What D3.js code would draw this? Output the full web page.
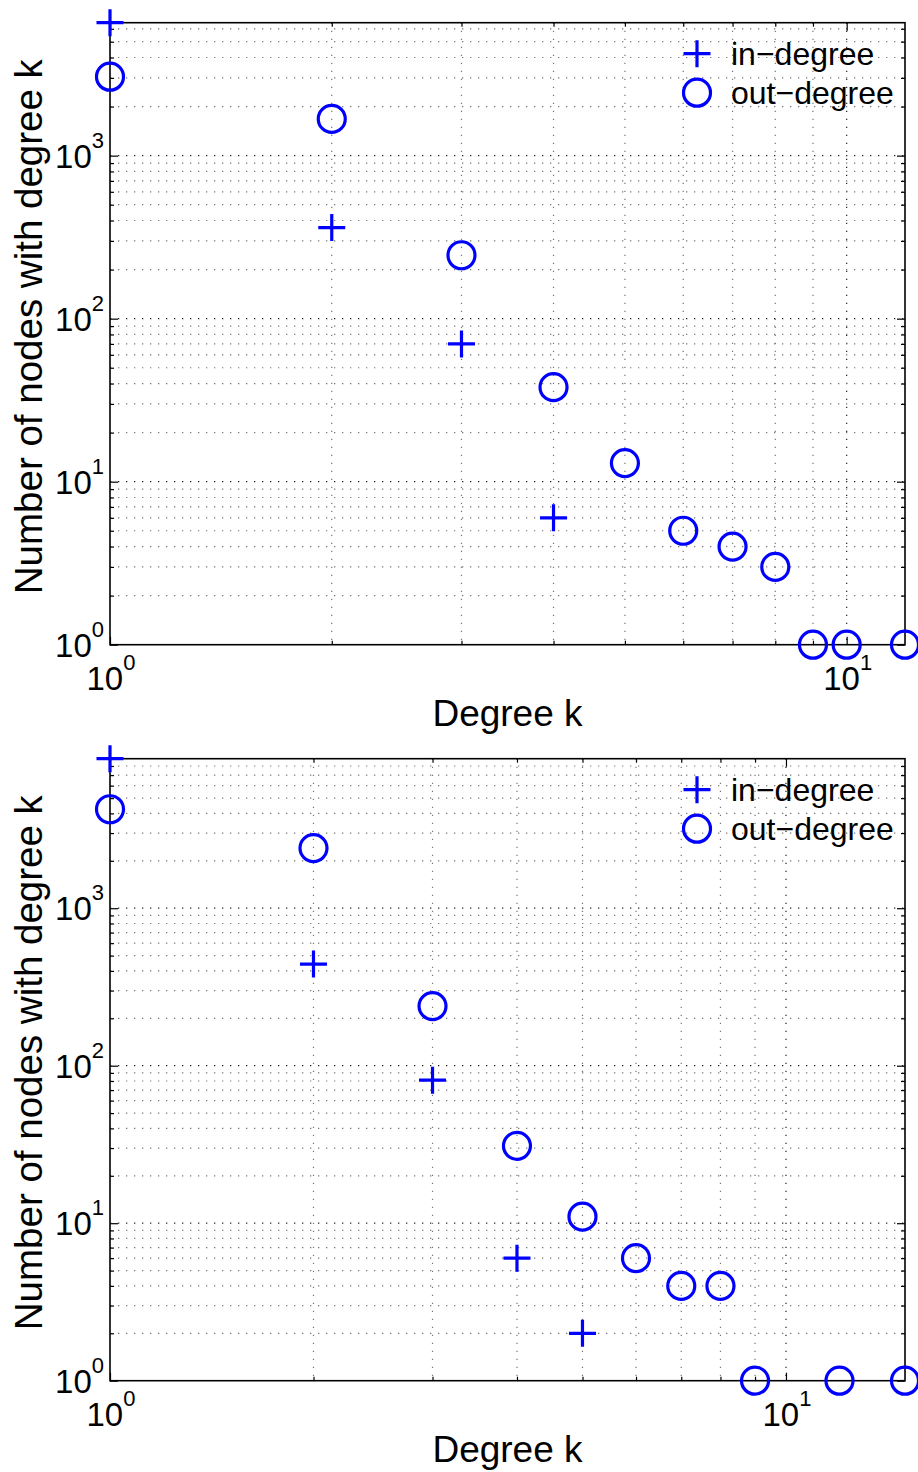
<!DOCTYPE html>
<html>
<head>
<meta charset="utf-8">
<script src="https://cdn.jsdelivr.net/npm/d3@7"></script>
<style>
  body { margin: 0; background: #fff; }
  svg { display: block; font-family: "Liberation Sans", Arial, sans-serif; }
</style>
</head>
<body>
<div id="chart"></div>
<script>
// data (counts of nodes per degree k)
var topInK = [1, 2, 3, 4];
var topInN = [6540, 362, 70, 6];
var topOutK = [1, 2, 3, 4, 5, 6, 7, 8, 9, 10, 12];
var topOutN = [3050, 1680, 245, 38, 13, 5, 4, 3, 1, 1, 1];

var botInK = [1, 2, 3, 4, 5];
var botInN = [8900, 442, 81, 6, 2];
var botOutK = [1, 2, 3, 4, 5, 6, 7, 8, 9, 12, 15];
var botOutN = [4250, 2410, 239, 31, 11, 6, 4, 4, 1, 1, 1];

var legendLabels = ["in\u2212degree", "out\u2212degree"];
var xLabel = "Degree k";
var yLabel = "Number of nodes with degree k";

var width = 918;
var height = 1472;
var blue = "#0000ff";

var panels = [
  {top: 22.7, bottom: 644.7, inK: topInK, inN: topInN, outK: topOutK, outN: topOutN},
  {top: 758.7, bottom: 1380.7, inK: botInK, inN: botInN, outK: botOutK, outN: botOutN}
];
var left = 110, right = 905;

var svg = d3.select("#chart").append("svg")
  .attr("width", width)
  .attr("height", height);

function isMajor(v) {
  var l = Math.log10(v);
  return Math.abs(l - Math.round(l)) < 1e-9;
}

function powLabel(sel, v) {
  sel.append("tspan").text("10");
  sel.append("tspan")
    .attr("dy", -20)
    .style("font-size", "22px")
    .text(Math.round(Math.log10(v)));
}

function plusPath(cx, cy, r) {
  return "M" + (cx - r) + "," + cy + "H" + (cx + r) + "M" + cx + "," + (cy - r) + "V" + (cy + r);
}

panels.forEach(function(p) {
  var g = svg.append("g");

  var x = d3.scaleLog()
    .domain([1, d3.max(p.outK.concat(p.inK))])
    .range([left, right]);
  var y = d3.scaleLog()
    .domain([1, d3.max(p.inN.concat(p.outN))])
    .range([p.bottom, p.top]);

  var xt = x.ticks();
  var yt = y.ticks();

  // dotted grid, major and minor
  g.selectAll(".vgrid").data(xt.filter(function(v) { return v > 1; }))
    .enter().append("line")
    .attr("x1", d => x(d)).attr("x2", d => x(d))
    .attr("y1", p.top).attr("y2", p.bottom)
    .style("stroke", d => isMajor(d) ? "#222" : "#777")
    .style("stroke-width", 1.2)
    .style("stroke-dasharray", "1.3,6.7");

  g.selectAll(".hgrid").data(yt.filter(function(v) { return v > 1; }))
    .enter().append("line")
    .attr("x1", left).attr("x2", right)
    .attr("y1", d => y(d)).attr("y2", d => y(d))
    .style("stroke", d => isMajor(d) ? "#222" : "#777")
    .style("stroke-width", 1.2)
    .style("stroke-dasharray", "1.3,6.7");

  // inward ticks on all four sides
  var xMaj = xt.filter(isMajor), xMin = xt.filter(v => !isMajor(v));
  var yMaj = yt.filter(isMajor), yMin = yt.filter(v => !isMajor(v));

  var tickSets = [
    [d3.axisBottom(x).tickValues(xMaj).tickSizeInner(-8), "translate(0," + p.bottom + ")"],
    [d3.axisBottom(x).tickValues(xMin).tickSizeInner(-4), "translate(0," + p.bottom + ")"],
    [d3.axisTop(x).tickValues(xMaj).tickSizeInner(-8), "translate(0," + p.top + ")"],
    [d3.axisTop(x).tickValues(xMin).tickSizeInner(-4), "translate(0," + p.top + ")"],
    [d3.axisLeft(y).tickValues(yMaj).tickSizeInner(-8), "translate(" + left + ",0)"],
    [d3.axisLeft(y).tickValues(yMin).tickSizeInner(-4), "translate(" + left + ",0)"],
    [d3.axisRight(y).tickValues(yMaj).tickSizeInner(-8), "translate(" + right + ",0)"],
    [d3.axisRight(y).tickValues(yMin).tickSizeInner(-4), "translate(" + right + ",0)"]
  ];
  tickSets.forEach(function(t) {
    var a = g.append("g")
      .attr("transform", t[1])
      .call(t[0].tickSizeOuter(0).tickFormat(""));
    a.select(".domain").remove();
    a.selectAll("line").style("stroke", "#000").style("stroke-width", 1.2);
  });

  // box
  g.append("rect")
    .attr("x", left).attr("y", p.top)
    .attr("width", right - left).attr("height", p.bottom - p.top)
    .style("fill", "none").style("stroke", "#000").style("stroke-width", 1.6);

  // tick labels
  xMaj.forEach(function(v) {
    g.append("text")
      .attr("x", x(v) + 1).attr("y", p.bottom + 45)
      .attr("text-anchor", "middle")
      .style("font-size", "33px")
      .call(powLabel, v);
  });
  yMaj.forEach(function(v) {
    g.append("text")
      .attr("x", 104).attr("y", y(v) + 12)
      .attr("text-anchor", "end")
      .style("font-size", "33px")
      .call(powLabel, v);
  });

  // axis labels
  g.append("text")
    .attr("x", (left + right) / 2).attr("y", p.bottom + 81)
    .attr("text-anchor", "middle")
    .style("font-size", "37px")
    .text(xLabel);
  g.append("text")
    .attr("transform", "translate(42," + ((p.top + p.bottom) / 2 - 7) + ") rotate(-90)")
    .attr("text-anchor", "middle")
    .style("font-size", "38.5px")
    .text(yLabel);

  // in-degree: plus markers
  g.selectAll(".inpt").data(p.inK.map((k, i) => [k, p.inN[i]]))
    .enter().append("path")
    .attr("d", d => plusPath(x(d[0]), y(d[1]), 13.5))
    .style("fill", "none").style("stroke", blue).style("stroke-width", 3.2);

  // out-degree: circle markers
  g.selectAll(".outpt").data(p.outK.map((k, i) => [k, p.outN[i]]))
    .enter().append("circle")
    .attr("cx", d => x(d[0])).attr("cy", d => y(d[1]))
    .attr("r", 13.5)
    .style("fill", "none").style("stroke", blue).style("stroke-width", 3.2);

  // legend (no box)
  var ly0 = p.top + 31, ly1 = p.top + 70;
  g.append("path")
    .attr("d", plusPath(697, ly0, 13.5))
    .style("fill", "none").style("stroke", blue).style("stroke-width", 3.2);
  g.append("circle")
    .attr("cx", 697).attr("cy", ly1).attr("r", 13.5)
    .style("fill", "none").style("stroke", blue).style("stroke-width", 3.2);
  [ly0, ly1].forEach(function(ly, i) {
    g.append("text")
      .attr("x", 731).attr("y", ly + 11)
      .style("font-size", "32px")
      .text(legendLabels[i]);
  });
});
</script>
</body>
</html>
